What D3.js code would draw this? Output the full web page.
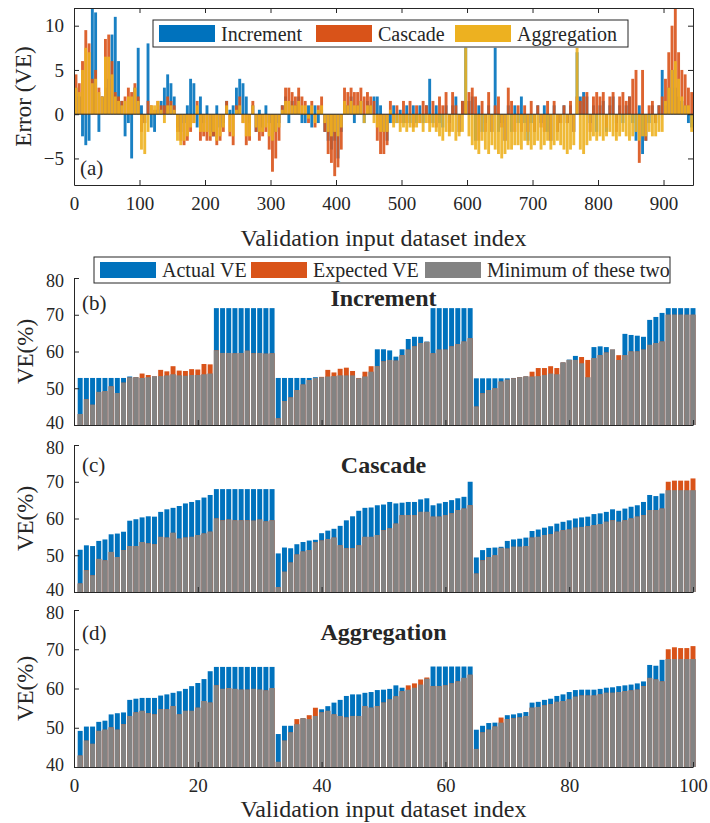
<!DOCTYPE html>
<html>
<head>
<meta charset="utf-8">
<script src="https://cdn.jsdelivr.net/npm/d3@7"></script>
<style>
  body { margin: 0; background: #fff; }
  svg text { font-family: "Liberation Serif", serif; fill: #262626; }
</style>
</head>
<body>
<div id="chart"></div>
<script>
// ---- panel (a): error per validation input (each value covers a block of 5 indices)
const errIndex = d3.range(3, 945, 5);
const errIncrement = [
  3, 2, -2.5, -3.5, -3, 12, 11.5, -2, 2, 3,
  4, 9, 11, 6, 1.5, -2.5, -1, -5, 3, 7.5,
  1, -1, 8, -1.5, -2, 0.5, 1.5, 3, 4.5, 3.5,
  2, -1.5, -2, -1, 1, 4, 3.5, -1.5, 2, -1,
  1, -2, -2.5, 1, -1.5, -1, 1.5, 0.5, 1, 3,
  4, 3.5, 2, -1, 1, -2, 0.5, -1.5, 1, -1,
  -3, -2, -1, 1, 2, -1, 1.5, 1, 2, -1,
  -1, 1, -1.5, 1, -1, 0.5, -2, -3, -4, -3,
  -5, -2, 1.5, 1, 2, -1, 1, 1.5, -1, 1.5,
  1, 2, 2, 1, -2, -3, -1, 1, -1, 0.5,
  -1, 1, -1, 1, -1, 1, -1, 1, 4, -1,
  1, -1, -1.5, 1, -1, 1, 2, -2, 1.5, 7.5,
  1.5, 2, -3, 1, -2, -1, 1, -2, 7.5, -2,
  -1, -3, 1, -2, 1, -1, 2, -1, -3, -1,
  -2, 1, -1, 1, -2, -3, 1, -2, -1, 1,
  -1, 1, -2, 7, 2, 2.5, 2, -1, 1, -2,
  1, 1.5, -2, 1, 2, -1, 1, -1, 1, 2,
  -1, -3, 1, -4.5, -3, -1, 1, -1, 1, 5,
  1, 3, 5, 3, 2, 1.5, 1, -1, -1.5
];
const errCascade = [
  4.5, 3.5, 6, 9.5, 8, 4, 5, 3, 2, 8.5,
  9, 6, 2.5, 2, 1.5, 2, 3, 2.5, 3.5, 2,
  -2, -1, 1.5, 1, 0.5, 1.5, 1, 1, 2, 1.5,
  1, -2, -3, -3.5, -3, -2, -1, 1.5, -3, -2.5,
  -3, -3, -2.5, -3.5, -3, -2, 1.5, -2.5, -3.5, 1,
  2, -1, -3.5, -3, 1.5, -2, -3, -2.5, -2, -4,
  -6.5, -5, -3, 1, 3, 3, 2.5, 2, 3, 2,
  1.5, -1, 1.5, -1.5, 1, 2, -2, -4.5, -5.5, -7,
  -6, -4, 3, 2.5, 3, 2.5, 2.5, 3, 2, 2.5,
  2, 1.5, -3, -4.5, -4.5, -3.5, 1.5, -1, 1, -1,
  1.5, -1, 1.5, -1.5, 1, -1, 1.5, 1, -1, 1.5,
  -1.5, 2, 1, 2.5, -2, 2.5, 1, -2, 1.5, 1.5,
  2.5, 3, 2, -3, 1.5, -2, 2.5, -2, 1, 2,
  -1.5, -3, 3, 1.5, -2, 1, -2, 1, -2, 1.5,
  -2, 1, -1.5, -2, 1.5, -3, 1.5, -2, -1, 1,
  -1, 1.5, -2, 2, 1.5, 2, 2.5, -2, 2, 2.5,
  2, 2.5, -1.5, 2, 2.5, -2, 2, 2.5, 1.5, 2,
  4, 5, -5.5, 5, -3, 1, 1.5, -1, 1, 2,
  4, 7, 10, 12, 7, 5, 4.5, 3, 2.5
];
const errAggregation = [
  3, 2.5, 5, 7.5, 7, 3.5, 4, 2.5, 2, 6.5,
  6.5, 4.5, 2, 1.5, 1, 1.5, 2, 2, 3, 1.5,
  -4, -4.5, -2, 1, 1, 1.5, 0.5, -1, 1, 1,
  0.5, -3, -3.5, -3, -2.5, -1.5, -1, 1, -2, -2,
  -2, -2.5, -2, -3, -2.5, -1.5, 1, -2, -2.5, 0.5,
  1, -1, -2.5, -2.5, 1, -1.5, -2, -2, -1.5, -2.5,
  -3, -2, -1.5, 0.5, 1.5, 1.5, 1, 1, 1.5, 1,
  1, -0.5, 1, -1, 0.5, 1, -1, -2, -2.5, -2,
  -2.5, -1.5, 1.5, 1, 1.5, 1, 1, 1.5, -1, 1,
  1, -1, -1.5, -2, -2, -2, 0.5, -1.5, -1, -2,
  -1.5, -2, -1.5, -2, -1.5, -1, -2, -1, -2, -1.5,
  -2, -2.5, -3, -2, -2.5, -2, -3, -2.5, -2, 7.5,
  -2.5, -3.5, -4, -4.5, -3, -4, -4.5, -3.5, -4, -4.5,
  -5, -4.5, -4, -4, -3.5, -3.5, -4, -3, -3.5, -4,
  -3.5, -3, -4, -3.5, -3, -4, -3.5, -3, -3.5, -4,
  -4.5, -4, -3.5, 7.5, -4, -4.5, -3.5, -3, -2.5, -3,
  -2.5, -3, -2.5, -2, -2.5, -3, -2.5, -2, -2.5, -3,
  -2.5, -2, -3, -2.5, -2.5, -2, -2.5, -2.5, -2, -2,
  1.5, 3, 5, 6, 4, 2, 1, 1, -2
];
const errSeriesNames = ["Increment", "Cascade", "Aggregation"];
const errXTicks = [0, 100, 200, 300, 400, 500, 600, 700, 800, 900];
const errYTicks = [-5, 0, 5, 10];

// ---- panels (b)-(d): VE (%) per validation input
const veIndex = d3.range(1, 101);
const incActual = [
  52.8, 52.8, 52.8, 52.8, 52.8, 52.8, 52.8, 52.8, 53.2, 53, 52.8, 53, 53.2, 53.3, 53.5, 53.8, 53.5, 53.4, 53.6, 53.6, 53.8, 54,
  71.8, 71.8, 71.8, 71.8, 71.8, 71.8, 71.8, 71.8, 71.8, 71.8,
  52.8, 52.8, 52.8, 52.8, 52.8, 52.8, 53, 53, 53.2, 53.3, 53.5, 53.5, 53.5, 52.7, 53.2, 54.5,
  60.6, 60.6, 60.3, 58.6, 60.6, 63.4, 64, 64, 62.7,
  71.8, 71.8, 71.8, 71.8, 71.8, 71.8, 71.8,
  52.7, 52.7, 52.7, 52.7, 52.7, 52.7, 52.8, 53, 53.2, 53.2, 53.3, 53.6, 54, 53.8,
  57, 57.8, 58.8, 56.8, 53, 61.2, 61.4, 61.2, 60.5, 57.7, 64.8, 64.5, 64.3, 64, 68.6, 69.4, 70.5,
  71.8, 71.8, 71.8, 71.8, 71.8
];
const incExpected = [
  43, 47, 45.5, 49, 49.2, 50.5, 48.7, 51.5, 52.9, 53, 54, 53.6, 53.2, 55, 54.6, 56, 54.8, 54.7, 55.2, 55.1, 56.6, 56.5,
  60.3, 59.6, 59.6, 59.5, 59.6, 60.2, 59.5, 59.6, 59.4, 59.5,
  41.8, 46.5, 47.5, 49.5, 51, 52.2, 52.8, 53.1, 55, 54.3, 55.3, 55.6, 54.7, 52.8, 54.5, 56,
  56, 57.3, 57.7, 57.5, 59, 60.5, 61.4, 62.3, 62.6,
  59.5, 60.5, 60.5, 61.4, 62, 62.7, 63.6,
  45, 48.6, 49.5, 50, 51.8, 52.3, 52.7, 53, 53.2, 54.5, 55.5, 55.5, 56, 55.5,
  57, 57.7, 57.7, 58.5, 57.7, 58.2, 59, 59.7, 60.5, 59, 59, 60, 60, 60.5, 61.8, 62.3, 62.7,
  70, 70, 70, 70, 70
];
const casActual = [
  51.5, 52.7, 52.5, 53.9, 54.3, 55.7, 55.9, 56.4, 59.4, 59.8, 60.3, 60.6, 60.5, 61.8, 62.5, 62.9, 63.4, 64.1, 64.5, 65, 65.7, 66.4,
  68, 68, 68, 68, 68, 68, 68, 68, 68, 68,
  50.5, 52.1, 51.9, 53, 53.6, 54, 54.2, 56, 56.7, 57.2, 58, 59.5, 60.6,
  62.1, 62.9, 63, 63.6, 63.8, 64.5, 64.1, 64.3, 64.5, 64.5, 65.2, 65.5, 63.6, 64.1, 64.5, 65, 65.5, 65.9, 70,
  49.4, 51.4, 52, 52.1, 52.3, 53.9, 54.3, 54.5, 54.8, 56.6, 57, 57.5, 57.9, 58.6, 59.1, 59.5,
  60, 60.3, 60.5, 61.2, 61.4, 61.8, 62.5, 62.1, 62.7, 63.2, 63.6, 64.5, 66.4, 66.1, 66.8,
  67.7, 67.7, 67.7, 67.7, 67.7
];
const casExpected = [
  42.3, 45.9, 44.5, 49, 48.6, 50.9, 49.5, 51.4, 52.5, 52.5, 53.6, 53.2, 53, 55, 54.8, 56.1, 54.5, 54.8, 55, 55.5, 55.9, 56.4,
  60, 59.5, 59.7, 59.5, 59.5, 59.5, 59.4, 59.7, 59.2, 59.5,
  41.3, 45.5, 48, 50.2, 51, 51.4, 53.5, 54, 54.4, 54.8, 52.7, 51.9, 51.9,
  52.7, 55, 55, 55.5, 56.8, 57.3, 58.6, 60.9, 60.9, 60.9, 61.8, 61.8, 60.5, 60.5, 60.9, 61.4, 62.3, 62.7, 63.6,
  45, 48.6, 49.5, 50, 52, 51.8, 52.3, 52.3, 52.5, 54.8, 55, 55.5, 55.7, 56.4, 56.8, 57,
  57.5, 57.7, 57.9, 58.2, 58.5, 59.1, 59.5, 59.1, 59.5, 60, 60.5, 60.9, 62.3, 62.3, 62.7,
  70, 70.3, 70.3, 70.3, 70.9
];
const aggActual = [
  49.2, 50.3, 50.3, 51.5, 51.8, 53.4, 53.7, 53.9, 57.1, 57.4, 57.6, 57.6, 57.6, 58.2, 58.5, 58.9, 59.3, 59.9, 60.6, 61.4, 62.4, 64.4,
  65.5, 65.5, 65.5, 65.5, 65.5, 65.5, 65.5, 65.5, 65.5, 65.5,
  48.4, 50.5, 50.5, 50.9, 52.4, 52.2, 53, 54.7, 55.5, 56.4, 57.1, 58.1, 58.5,
  58.5, 58.9, 59.1, 59.6, 59.7, 59.9, 60.8, 60.2, 59.7, 60.2, 61, 62.5,
  65.6, 65.6, 65.6, 65.6, 65.6, 65.6, 65.6,
  49.5, 50.5, 51.2, 51.3, 51.3, 53.2, 53.4, 53.7, 54, 56.4, 56.6, 57.1, 57.4, 58.1, 58.5, 59.1,
  59.6, 59.7, 59.7, 59.7, 59.9, 60.2, 60.3, 60.6, 60.8, 61, 61.3, 61.8, 66, 65.8, 67.3,
  67.5, 67.5, 67.5, 67.5, 67.5
];
const aggExpected = [
  42.9, 46.7, 45.9, 49.2, 49.5, 50.1, 49.5, 50.9, 53, 53.9, 54.3, 53.7, 53.4, 54.7, 54.7, 55.5, 53.4, 54.3, 54.3, 55.1, 56.8, 56.4,
  60.8, 59.9, 60.1, 59.9, 59.7, 59.7, 59.9, 59.7, 59.5, 60.1,
  41.3, 46.7, 48.8, 52.2, 52.4, 53.2, 55.1, 53.9, 54.3, 53.4, 53, 52.6, 53,
  53, 55.5, 55.1, 55.5, 56.4, 57.2, 58, 59.3, 60.8, 61.3, 62.3, 62.8,
  60.6, 60.6, 60.8, 61.3, 61.8, 62.7, 63.5,
  44.6, 48.8, 49.5, 50.3, 52.6, 52.2, 52.4, 52.6, 53, 55.1, 55.3, 55.7, 56, 56.6, 56.8, 57.2,
  57.9, 58.2, 58.2, 58.2, 58.5, 58.9, 58.9, 59.1, 59.3, 59.5, 59.7, 60.6, 62.7, 62.3, 61.8,
  70, 70.5, 70.3, 70.3, 70.8
];
const veLegendNames = ["Actual VE", "Expected VE", "Minimum of these two"];
const veXTicks = [0, 20, 40, 60, 80, 100];
const veYTicks = [40, 50, 60, 70, 80];

const colors = { blue: "#0072BD", orange: "#D95319", yellow: "#EDB120", gray: "#838383" };
const axisColor = "#262626";

const W = 710, H = 823;
const left = 74, right = 693;

const svg = d3.select("#chart").append("svg")
    .attr("width", W)
    .attr("height", H);

// MATLAB style inward ticks
function inwardTicks(g) {
    g.selectAll(".domain").attr("stroke", axisColor);
    g.selectAll(".tick line").attr("stroke", axisColor);
    g.selectAll(".tick text")
        .style("font-family", "Liberation Serif")
        .style("font-size", "19px")
        .attr("fill", axisColor);
}

function legendBox(x, y, w, h, items) {
    const lg = svg.append("g");
    lg.append("rect")
        .attr("x", x).attr("y", y)
        .attr("width", w).attr("height", h)
        .attr("fill", "#fff")
        .attr("stroke", axisColor)
        .attr("stroke-width", 1);
    items.forEach(it => {
        lg.append("rect")
            .attr("x", it.px).attr("y", y + 5)
            .attr("width", 56).attr("height", h - 10)
            .attr("fill", it.color);
        lg.append("text")
            .attr("x", it.px + 62).attr("y", y + h / 2)
            .attr("dy", "0.35em")
            .style("font-size", "20px")
            .text(it.name);
    });
}

// ================= panel (a) =================
function renderErrorPanel() {
    const top = 8, bottom = 185;
    const x = d3.scaleLinear().domain([0, 945]).range([left, right]);
    const y = d3.scaleLinear().domain([-8, 12]).range([bottom, top]);

    svg.append("clipPath").attr("id", "clipA")
        .append("rect").attr("x", left).attr("y", top)
        .attr("width", right - left).attr("height", bottom - top);

    const bars = svg.append("g").attr("clip-path", "url(#clipA)");
    const series = [
        { vals: errIncrement, color: colors.blue },
        { vals: errCascade, color: colors.orange },
        { vals: errAggregation, color: colors.yellow }
    ];
    series.forEach(s => {
        bars.append("g").selectAll("rect")
            .data(errIndex.map((d, i) => ({ idx: d, v: s.vals[i] })))
            .enter().append("rect")
            .attr("x", d => x(d.idx - 2.2))
            .attr("width", d => x(d.idx + 2.2) - x(d.idx - 2.2))
            .attr("y", d => y(Math.max(0, d.v)))
            .attr("height", d => Math.abs(y(d.v) - y(0)))
            .attr("fill", s.color)
            .attr("opacity", 0.9);
    });

    // bar baseline
    svg.append("line")
        .attr("x1", left).attr("x2", right)
        .attr("y1", y(0)).attr("y2", y(0))
        .attr("stroke", axisColor).attr("stroke-width", 1);

    svg.append("g")
        .attr("transform", `translate(0, ${bottom})`)
        .call(d3.axisBottom(x).tickValues(errXTicks).tickSizeInner(-5).tickSizeOuter(0).tickPadding(12))
        .call(inwardTicks);
    svg.append("g")
        .attr("transform", `translate(0, ${top})`)
        .call(d3.axisTop(x).tickValues(errXTicks).tickSizeInner(-5).tickSizeOuter(0).tickFormat(""))
        .call(inwardTicks);
    svg.append("g")
        .attr("transform", `translate(${left}, 0)`)
        .call(d3.axisLeft(y).tickValues(errYTicks).tickSizeInner(-5).tickSizeOuter(0).tickPadding(10))
        .call(inwardTicks);
    svg.append("g")
        .attr("transform", `translate(${right}, 0)`)
        .call(d3.axisRight(y).tickValues(errYTicks).tickSizeInner(-5).tickSizeOuter(0).tickFormat(""))
        .call(inwardTicks);

    svg.append("text")
        .attr("transform", `translate(23, ${(top + bottom) / 2}) rotate(-90)`)
        .attr("text-anchor", "middle")
        .attr("dy", "0.35em")
        .style("font-size", "23px")
        .text("Error (VE)");

    svg.append("text")
        .attr("x", 80).attr("y", 168)
        .attr("dy", "0.35em")
        .style("font-size", "21px")
        .text("(a)");

    svg.append("text")
        .attr("x", (left + right) / 2).attr("y", 238)
        .attr("dy", "0.35em")
        .attr("text-anchor", "middle")
        .style("font-size", "24px")
        .text("Validation input dataset index");

    legendBox(153, 20, 475, 27, [
        { px: 159, color: colors.blue, name: errSeriesNames[0] },
        { px: 316, color: colors.orange, name: errSeriesNames[1] },
        { px: 455, color: colors.yellow, name: errSeriesNames[2] }
    ]);
}

// ================= panels (b)-(d) =================
function renderVEPanel(opt) {
    const x = d3.scaleLinear().domain([0, 100]).range([left, right]);
    const y = d3.scaleLinear().domain([40, 80]).range([opt.bottom, opt.top]);
    const bw = x(0.8) - x(0);

    const data = veIndex.map((d, i) => ({
        idx: d,
        actual: opt.actual[i],
        expected: opt.expected[i],
        min: Math.min(opt.actual[i], opt.expected[i])
    }));

    // actual, expected, then their minimum drawn on top
    const layers = [
        { key: "actual", color: colors.blue },
        { key: "expected", color: colors.orange },
        { key: "min", color: colors.gray }
    ];
    layers.forEach(l => {
        svg.append("g").selectAll("rect")
            .data(data)
            .enter().append("rect")
            .attr("x", d => x(d.idx) - bw / 2)
            .attr("width", bw)
            .attr("y", d => y(d[l.key]))
            .attr("height", d => y(40) - y(d[l.key]))
            .attr("fill", l.color);
    });

    const xAxis = d3.axisBottom(x).tickValues(veXTicks).tickSizeInner(-5).tickSizeOuter(0).tickPadding(12);
    if (!opt.showX) xAxis.tickFormat("");
    svg.append("g")
        .attr("transform", `translate(0, ${opt.bottom})`)
        .call(xAxis)
        .call(inwardTicks);
    const yAxis = svg.append("g")
        .attr("transform", `translate(${left}, 0)`)
        .call(d3.axisLeft(y).tickValues(veYTicks).tickSizeInner(-5).tickSizeOuter(0).tickPadding(10))
        .call(inwardTicks);
    // the stacked panels leave little room: keep 40 / 80 labels apart
    yAxis.selectAll(".tick text")
        .style("font-size", "18px")
        .attr("dy", d => d === 40 ? "0.2em" : d === 80 ? "0.45em" : "0.32em");

    svg.append("text")
        .attr("transform", `translate(25, ${(opt.top + opt.bottom) / 2}) rotate(-90)`)
        .attr("text-anchor", "middle")
        .attr("dy", "0.35em")
        .style("font-size", "23px")
        .text("VE(%)");

    svg.append("text")
        .attr("x", 82).attr("y", opt.labelY)
        .attr("dy", "0.35em")
        .style("font-size", "21px")
        .text(opt.label);

    svg.append("text")
        .attr("x", (left + right) / 2).attr("y", opt.titleY)
        .attr("dy", "0.35em")
        .attr("text-anchor", "middle")
        .style("font-size", "24px")
        .style("font-weight", "bold")
        .text(opt.title);
}

renderErrorPanel();

renderVEPanel({ top: 278, bottom: 425, actual: incActual, expected: incExpected,
    label: "(b)", labelY: 303, title: "Increment", titleY: 298, showX: false });
renderVEPanel({ top: 445, bottom: 592, actual: casActual, expected: casExpected,
    label: "(c)", labelY: 465, title: "Cascade", titleY: 465, showX: false });
renderVEPanel({ top: 610, bottom: 767, actual: aggActual, expected: aggExpected,
    label: "(d)", labelY: 633, title: "Aggregation", titleY: 632, showX: true });

svg.append("text")
    .attr("x", (left + right) / 2).attr("y", 809)
    .attr("dy", "0.35em")
    .attr("text-anchor", "middle")
    .style("font-size", "24px")
    .text("Validation input dataset index");

legendBox(94, 257, 576, 26, [
    { px: 100, color: colors.blue, name: veLegendNames[0] },
    { px: 251, color: colors.orange, name: veLegendNames[1] },
    { px: 425, color: colors.gray, name: veLegendNames[2] }
]);
</script>
</body>
</html>
